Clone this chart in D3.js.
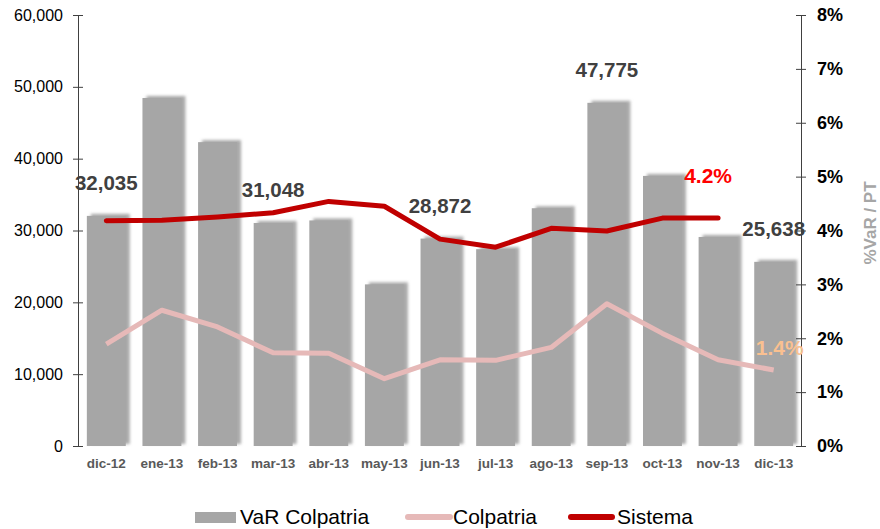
<!DOCTYPE html>
<html>
<head>
<meta charset="utf-8">
<script src="https://cdn.jsdelivr.net/npm/d3@7"></script>
<style>
  body { margin: 0; background: #fff; }
  svg { font-family: "Liberation Sans", Arial, sans-serif; }
</style>
</head>
<body>
<svg id="chart" width="880" height="529"></svg>
<script>
// months on the x axis
var months = [ 'dic-12', 'ene-13', 'feb-13', 'mar-13', 'abr-13', 'may-13', 'jun-13',
               'jul-13', 'ago-13', 'sep-13', 'oct-13', 'nov-13', 'dic-13' ];

// VaR Colpatria (bars, left axis)
var varColpatria = [ 32035, 48450, 42300, 31048, 31400, 22500, 28872,
                     27400, 33100, 47775, 37600, 29100, 25638 ];

// %VaR / PT (right axis)
var colpatria = [ 1.89, 2.52, 2.21, 1.73, 1.72, 1.25, 1.60, 1.59, 1.83, 2.64, 2.09, 1.60, 1.41 ];
var sistema   = [ 4.18, 4.19, 4.25, 4.33, 4.54, 4.45, 3.84, 3.69, 4.04, 3.99, 4.23, 4.23, null ];

// bars that carry a value label
var labelled = [ 0, 3, 6, 9, 12 ];

var leftTicks  = [ 0, 10000, 20000, 30000, 40000, 50000, 60000 ];
var rightTicks = [ 0, 1, 2, 3, 4, 5, 6, 7, 8 ];

var svg = d3.select( '#chart' );
var plotLeft = 78, plotRight = 801, plotTop = 15, plotBottom = 446;

var x = d3.scaleBand()
    .domain( months )
    .range( [ plotLeft + 0.5, plotRight + 0.5 ] );

var y = d3.scaleLinear().domain( [ 0, 60000 ] ).range( [ plotBottom, plotTop ] );
var y2 = d3.scaleLinear().domain( [ 0, 8 ] ).range( [ plotBottom, plotTop ] );

var fmt = d3.format( ',' );

// soft shadow behind the bars
var defs = svg.append( 'defs' );
var f = defs.append( 'filter' ).attr( 'id', 'shadow' )
    .attr( 'x', '-20%' ).attr( 'y', '-10%' ).attr( 'width', '150%' ).attr( 'height', '120%' );
f.append( 'feGaussianBlur' ).attr( 'in', 'SourceAlpha' ).attr( 'stdDeviation', 1.6 ).attr( 'result', 'b' );
f.append( 'feOffset' ).attr( 'in', 'b' ).attr( 'dx', 4 ).attr( 'dy', -2 ).attr( 'result', 'o' );
f.append( 'feFlood' ).attr( 'flood-color', '#9a9a9a' ).attr( 'flood-opacity', 0.85 );
f.append( 'feComposite' ).attr( 'in2', 'o' ).attr( 'operator', 'in' ).attr( 'result', 's' );
var m = f.append( 'feMerge' );
m.append( 'feMergeNode' ).attr( 'in', 's' );
m.append( 'feMergeNode' ).attr( 'in', 'SourceGraphic' );

var barW = x.bandwidth() * 0.7;

svg.append( 'g' )
    .selectAll( 'rect' )
    .data( varColpatria )
    .enter().append( 'rect' )
    .attr( 'x', function( d, i ) { return x( months[ i ] ) + ( x.bandwidth() - barW ) / 2; } )
    .attr( 'y', function( d ) { return y( d ); } )
    .attr( 'width', barW )
    .attr( 'height', function( d ) { return plotBottom - y( d ); } )
    .attr( 'fill', '#a6a6a6' )
    .attr( 'filter', 'url(#shadow)' );

function cx( i ) { return x( months[ i ] ) + x.bandwidth() / 2; }

// left axis
var ax = svg.append( 'g' )
    .attr( 'transform', 'translate(' + plotLeft + ',0)' )
    .call( d3.axisLeft( y ).tickValues( leftTicks ).tickSize( 5 ).tickSizeOuter( 0 ).tickPadding( 10 ).tickFormat( fmt ) );
ax.selectAll( '.tick' ).append( 'line' ).attr( 'x2', 5 ).attr( 'stroke', '#404040' );
ax.selectAll( 'line, path' ).attr( 'stroke', '#404040' );
ax.selectAll( 'text' ).attr( 'font-size', 16 ).attr( 'fill', '#000' );
ax.attr( 'font-family', null );

// right axis
var ax2 = svg.append( 'g' )
    .attr( 'transform', 'translate(' + plotRight + ',0)' )
    .call( d3.axisRight( y2 ).tickValues( rightTicks ).tickSize( 5 ).tickSizeOuter( 0 ).tickPadding( 11 )
        .tickFormat( function( d ) { return d + '%'; } ) );
ax2.selectAll( '.tick' ).append( 'line' ).attr( 'x2', -5 ).attr( 'stroke', '#404040' );
ax2.selectAll( 'line, path' ).attr( 'stroke', '#404040' );
ax2.selectAll( 'text' ).attr( 'font-size', 18 ).attr( 'font-weight', 'bold' ).attr( 'fill', '#000' );
ax2.attr( 'font-family', null );

svg.append( 'text' )
    .attr( 'transform', 'translate(876,223) rotate(-90)' )
    .attr( 'text-anchor', 'middle' )
    .attr( 'font-size', 17 )
    .attr( 'font-weight', 'bold' )
    .attr( 'fill', '#a6a6a6' )
    .text( '%VaR / PT' );

// month labels
svg.append( 'g' )
    .selectAll( 'text' )
    .data( months )
    .enter().append( 'text' )
    .attr( 'x', function( d, i ) { return cx( i ); } )
    .attr( 'y', 468 )
    .attr( 'text-anchor', 'middle' )
    .attr( 'font-size', 13.5 )
    .attr( 'font-weight', 'bold' )
    .attr( 'fill', '#595959' )
    .text( function( d ) { return d; } );

// lines
var line = d3.line()
    .defined( function( d ) { return d !== null; } )
    .x( function( d, i ) { return cx( i ); } )
    .y( function( d ) { return y2( d ); } );

svg.append( 'path' )
    .attr( 'd', line( colpatria ) )
    .attr( 'fill', 'none' )
    .attr( 'stroke', '#e6b9b8' )
    .attr( 'stroke-width', 5 )
    .attr( 'stroke-linejoin', 'round' );

svg.append( 'path' )
    .attr( 'd', line( sistema ) )
    .attr( 'fill', 'none' )
    .attr( 'stroke', '#c00000' )
    .attr( 'stroke-width', 5 )
    .attr( 'stroke-linejoin', 'round' )
    .attr( 'stroke-linecap', 'round' );

// bar value labels
svg.append( 'g' )
    .selectAll( 'text' )
    .data( labelled )
    .enter().append( 'text' )
    .attr( 'x', function( i ) { return cx( i ); } )
    .attr( 'y', function( i ) { return y( varColpatria[ i ] ) - 26; } )
    .attr( 'text-anchor', 'middle' )
    .attr( 'font-size', 20.5 )
    .attr( 'font-weight', 'bold' )
    .attr( 'fill', '#404040' )
    .text( function( i ) { return fmt( varColpatria[ i ] ); } );

// last point labels
svg.append( 'text' )
    .attr( 'x', cx( 11 ) - 10 )
    .attr( 'y', y2( sistema[ 11 ] ) - 35 )
    .attr( 'text-anchor', 'middle' )
    .attr( 'font-size', 21 )
    .attr( 'font-weight', 'bold' )
    .attr( 'fill', '#ff0000' )
    .text( d3.format( '.1f' )( sistema[ 11 ] ) + '%' );

svg.append( 'text' )
    .attr( 'x', cx( 12 ) + 6 )
    .attr( 'y', y2( colpatria[ 12 ] ) - 15 )
    .attr( 'text-anchor', 'middle' )
    .attr( 'font-size', 21 )
    .attr( 'font-weight', 'bold' )
    .attr( 'fill', '#fac090' )
    .text( d3.format( '.1f' )( colpatria[ 12 ] ) + '%' );

// legend
var lg = svg.append( 'g' ).attr( 'font-size', 21 ).attr( 'fill', '#000' );
lg.append( 'rect' ).attr( 'x', 195 ).attr( 'y', 512 ).attr( 'width', 41 ).attr( 'height', 11 ).attr( 'fill', '#a6a6a6' );
lg.append( 'text' ).attr( 'x', 240 ).attr( 'y', 524 ).text( 'VaR Colpatria' );
lg.append( 'line' ).attr( 'x1', 408 ).attr( 'x2', 450 ).attr( 'y1', 517 ).attr( 'y2', 517 )
    .attr( 'stroke', '#e6b9b8' ).attr( 'stroke-width', 6 ).attr( 'stroke-linecap', 'round' );
lg.append( 'text' ).attr( 'x', 453 ).attr( 'y', 524 ).text( 'Colpatria' );
lg.append( 'line' ).attr( 'x1', 571 ).attr( 'x2', 612 ).attr( 'y1', 517 ).attr( 'y2', 517 )
    .attr( 'stroke', '#c00000' ).attr( 'stroke-width', 6 ).attr( 'stroke-linecap', 'round' );
lg.append( 'text' ).attr( 'x', 617 ).attr( 'y', 524 ).text( 'Sistema' );
</script>
</body>
</html>
